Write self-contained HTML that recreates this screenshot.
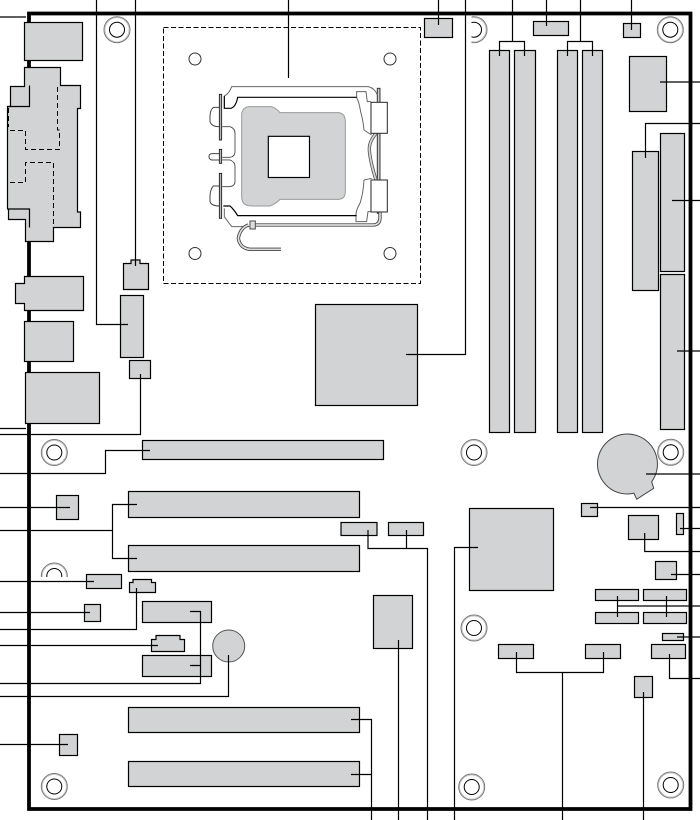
<!DOCTYPE html>
<html><head><meta charset="utf-8"><style>
html,body{margin:0;padding:0;background:#fff}
svg{display:block}
.b{fill:#d1d3d4;stroke:#000;stroke-width:1.2}
.l{fill:none;stroke:#000;stroke-width:1.2}
.d{fill:none;stroke:#000;stroke-width:1;stroke-dasharray:5 3}
.h1{fill:none;stroke:#777;stroke-width:1}
.h2{fill:none;stroke:#000;stroke-width:1}
</style></head><body>
<svg width="700" height="820" viewBox="0 0 700 820" xmlns="http://www.w3.org/2000/svg">
<defs><g id="m"><circle r="13" class="h1"/><circle r="12" fill="none" stroke="#bbb" stroke-width=".7"/><circle r="7.500" class="h2"/></g>
<clipPath id="c1"><rect x="471.500" y="0" width="40" height="60"/></clipPath>
<clipPath id="c2"><rect x="30" y="550" width="60" height="27"/></clipPath></defs>
<!-- board -->
<path d="M29 809V13.500H690.500V809Z" fill="none" stroke="#000" stroke-width="3.800"/>
<path class="l" d="M0 17H26M0 428.500H26"/>
<!-- mount holes -->
<use href="#m" x="117" y="29.700"/><use href="#m" x="670.300" y="29.700"/>
<g clip-path="url(#c1)"><use href="#m" x="474" y="29.700"/></g>
<use href="#m" x="54.300" y="452.500"/><use href="#m" x="474" y="452.500"/><use href="#m" x="670.700" y="452.300"/>
<use href="#m" x="474" y="628"/><use href="#m" x="54.300" y="786.500"/><use href="#m" x="471.700" y="787"/><use href="#m" x="670.700" y="785"/>
<g clip-path="url(#c2)"><use href="#m" x="54.300" y="576"/></g>
<!-- left back panel -->
<rect class="b" x="24.500" y="22.500" width="58" height="38"/>
<path class="b" d="M24.500 67.500H60.500V85.500H80.500V108.500H77.500V212H80.500V227.500H53.500V241.500H25.500V219.500H8.500V209H7.500V106.500H10.500V86.500H24.500Z"/>
<path class="l" d="M29.500 85.500V106.500H8M8.500 209H29.500V227.500"/>
<path class="d" d="M57.500 87V130H59.500V149.500H25.500V130.500H8M8.500 108V127M10 182.500H25.500V162.500H53.500V227"/>
<path class="b" d="M24.500 276.500H83.500V310.500H24.500V303.500H15.500V283.500H24.500Z"/>
<rect class="b" x="24.500" y="321.500" width="49" height="40"/>
<rect class="b" x="25.500" y="372.500" width="74" height="51"/>
<path class="b" d="M123.500 263.500H131V260H140V263.500H148.500V289.500H123.500Z"/>
<rect class="b" x="120.500" y="295.500" width="23" height="62"/>
<rect class="b" x="129.500" y="360.500" width="21" height="18"/>
<path class="l" d="M96.500 0V324.500H128M135.500 0V266M140.500 374V434.500H0"/>
<!-- CPU -->
<rect x="163.500" y="27.500" width="257" height="256" fill="none" stroke="#000" stroke-width="1" stroke-dasharray="5 2.500"/>
<g fill="#fff" stroke="#333" stroke-width="1"><circle cx="195" cy="59" r="6"/><circle cx="390" cy="59" r="6"/><circle cx="195" cy="253.500" r="6"/><circle cx="390" cy="253.500" r="6"/></g>
<path class="l" d="M288.500 0V78"/>
<g transform="translate(160 60) scale(.3333)" fill="none">
<!-- right rail -->
<rect x="652" y="85" width="8" height="375" fill="#ccc" stroke="#333" stroke-width="3"/>
<!-- grey frame outline -->
<g stroke="#666" stroke-width="3">
<path d="M193 108Q208 100 215 80H625Q645 85 652 105"/>
<path d="M193 445V470L215 500H268"/>
<path d="M590 113V95H618L622 125H633M590 113Q597 125 602 155Q610 185 612 210L635 225"/>
<path d="M612 360L635 355M612 360Q610 400 600 430Q588 450 588 465V485H620L624 455H633"/>
</g>
<!-- spring -->
<path stroke="#555" stroke-width="10" d="M648 220Q628 245 628 265Q628 295 648 360"/>
<path stroke="#d8d8d8" stroke-width="5" d="M648 220Q628 245 628 265Q628 295 648 360"/>
<!-- black inner frame -->
<path stroke="#000" stroke-width="3.600" d="M193 108V145H213Q228 140 233 112H590M190 438H210Q223 450 233 467H590"/>
<!-- lever -->
<path stroke="#444" stroke-width="10" d="M270 495H640Q660 494 660 474V458M265 495Q240 505 235 535Q240 565 270 568H363"/>
<path stroke="#ddd" stroke-width="5" d="M270 495H640Q660 494 660 474V458M265 495Q240 505 235 535Q240 565 270 568H363"/>
<!-- grey plate -->
<path fill="#d1d3d4" stroke="#999" stroke-width="3" d="M270 140H335Q350 145 360 158H535Q556 160 556 185V395Q556 418 535 418H360Q350 430 330 438H275Q245 438 245 410V160Q250 140 270 140Z"/>
<rect x="325" y="229" width="123.500" height="123.500" fill="#fff" stroke="#000" stroke-width="3.500"/>
<!-- clamps -->
<g fill="#fff" stroke="#333" stroke-width="3.200">
<rect x="633" y="127" width="49" height="93"/><rect x="633" y="360" width="49" height="96"/>
<rect x="270" y="483" width="16" height="24" fill="#ddd" stroke="#555"/>
</g>
<!-- left bars, bumps -->
<g stroke="#444" stroke-width="3">
<path d="M178 142H160Q150 150 150 170V185Q155 200 178 200M178 378H160Q150 390 150 410V425Q155 438 178 438M178 281H155Q147 282 147 290Q147 298 155 300H178"/>
<path stroke-width="2.600" d="M187 200H210Q225 205 225 220V275Q225 290 210 292H187M187 300H210Q225 305 225 320V365Q225 380 205 380H187"/>
</g>
<g fill="#bbb" stroke="#111" stroke-width="2.500">
<rect x="178" y="103" width="7" height="137"/><rect x="178" y="268" width="7" height="42"/><rect x="178" y="340" width="7" height="135"/>
</g>
</g>
<!-- top connectors -->
<rect class="b" x="424.500" y="18.500" width="28" height="19"/>
<rect class="b" x="533.500" y="21.500" width="35" height="14"/>
<rect class="b" x="623.500" y="23.500" width="17" height="14"/>
<rect class="b" x="489.500" y="50.500" width="20" height="382"/>
<rect class="b" x="514.500" y="50.500" width="21" height="382"/>
<rect class="b" x="557.500" y="50.500" width="20" height="382"/>
<rect class="b" x="582.500" y="50.500" width="20" height="382"/>
<rect class="b" x="629.500" y="56.500" width="37" height="55"/>
<rect class="b" x="632.500" y="151.500" width="26" height="139"/>
<rect class="b" x="660.500" y="133.500" width="24" height="138"/>
<rect class="b" x="660.500" y="274.500" width="24" height="155"/>
<rect class="b" x="315.500" y="304.500" width="102" height="101"/>
<path class="l" d="M438.500 0V25M546.500 0V26M631.500 0V30M512.500 0V41.500M499.500 56V41.500H524.500V56M580.500 0V41.500M567.500 56V41.500H592.500V56M465.500 0V354.500H406M660 82H700M645.500 158V123.500H700M672 200.500H700M677 351H700"/>
<!-- expansion -->
<rect class="b" x="142.500" y="440.500" width="241" height="19"/>
<rect class="b" x="56.500" y="495.500" width="22" height="24"/>
<rect class="b" x="128.500" y="491.500" width="231" height="26"/>
<rect class="b" x="128.500" y="545.500" width="231" height="26"/>
<rect class="b" x="86.500" y="574.500" width="35" height="14"/>
<rect class="b" x="84.500" y="604.500" width="16" height="17"/>
<path class="b" d="M129.500 592.500V582.500H133V579.500H151.500V582.500H155.500V592.500Z"/>
<rect class="b" x="142.500" y="601.500" width="69" height="21"/>
<path class="b" d="M151.500 651.500V639.500H156V635.500H180V639.500H184.500V651.500Z"/>
<rect class="b" x="142.500" y="655.500" width="69" height="21"/>
<circle cx="228.700" cy="646" r="16" fill="#d1d3d4" stroke="#555" stroke-width="1"/>
<rect class="b" x="128.500" y="707.500" width="231" height="25"/>
<rect class="b" x="128.500" y="761.500" width="231" height="25"/>
<rect class="b" x="59.500" y="734.500" width="18" height="21"/>
<path class="l" d="M0 473.500H105.500V450.500H150M0 507.500H70M0 530.500H112.500M137 504.500H112.500V558.500H137M0 581.500H94M0 612.500H90M136.500 588V629.500H0M0 645.500H158M190 611.500H200.500V683.500H0M190 665.500H200.500M228.500 655V696.500H0M0 744.500H68"/>
<rect class="b" x="341" y="522.500" width="36" height="13"/>
<rect class="b" x="388.500" y="522.500" width="35" height="13"/>
<rect class="b" x="373.500" y="595.500" width="39" height="53"/>
<rect class="b" x="469.500" y="508.500" width="84" height="82"/>
<path class="l" d="M351 719.500H371.500V820M351 774.500H371.500M398.500 640V820M368 530V548.500H427.500V820M406.500 530V548.500M478 547.500H454.500V820"/>
<!-- lower right -->
<path fill="#d1d3d4" stroke="#444" stroke-width="1" d="M651.700 481.700A30 30 0 1 0 634 493.300L636.700 499.300L653.700 488.300Z"/>
<rect class="b" x="581.500" y="503.500" width="16" height="13"/>
<rect class="b" x="676.500" y="513.500" width="7" height="21"/>
<rect class="b" x="628.500" y="515.500" width="30" height="24"/>
<rect class="b" x="655.500" y="561.500" width="21" height="18"/>
<rect class="b" x="595.500" y="589.500" width="43" height="11"/>
<rect class="b" x="643.500" y="589.500" width="43" height="11"/>
<rect class="b" x="595.500" y="612.500" width="43" height="11"/>
<rect class="b" x="643.500" y="612.500" width="43" height="11"/>
<rect class="b" x="662.500" y="633.500" width="21" height="7"/>
<rect class="b" x="651.500" y="644.500" width="34" height="14"/>
<rect class="b" x="498.500" y="644.500" width="35" height="14"/>
<rect class="b" x="585.500" y="644.500" width="35" height="14"/>
<rect class="b" x="634.500" y="676.500" width="18" height="21"/>
<path class="l" d="M646 474H700M590 507.500H700M680 528.500H700M644.700 533V551.500H700M671 574.500H700M617.500 596V617M666.500 596V617M617.500 606H700M677 637H700M669.500 654V678.500H700M516.500 652V672.500H603.500V652M562.500 672.500V820M643.500 692V820"/>
</svg>
</body></html>
